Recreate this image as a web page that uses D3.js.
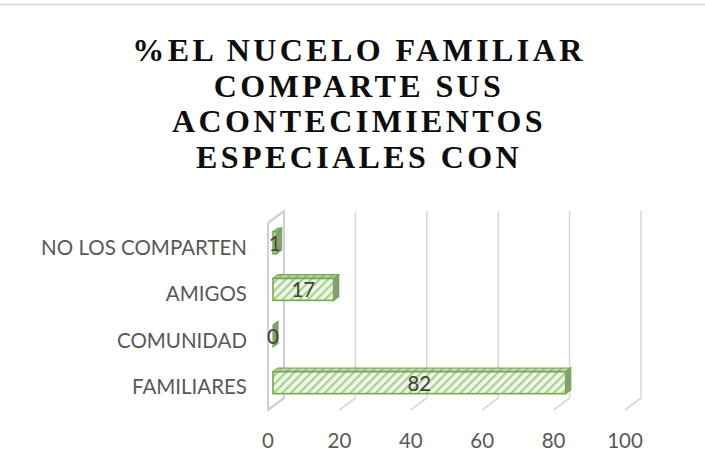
<!DOCTYPE html>
<html>
<head>
<meta charset="utf-8">
<script src="https://cdn.jsdelivr.net/npm/d3@7"></script>
<style>
  body { margin: 0; background: #fff; }
  svg { display: block; }
</style>
</head>
<body>
<svg id="chart"></svg>
<script>
// data
var categories = ["FAMILIARES", "COMUNIDAD", "AMIGOS", "NO LOS COMPARTEN"];
var values = [82, 0, 17, 1];
var xTicks = [0, 20, 40, 60, 80, 100];
var titleLines = ["%EL NUCELO FAMILIAR", "COMPARTE SUS", "ACONTECIMIENTOS", "ESPECIALES CON"];

var W = 705, H = 475;
var depth = { dx: 16, dy: -12 };   // offset front plane -> back wall
var barZ = { front: 5 / 16, back: 10 / 16 }; // where the bar sits in depth
var labelFont = "Lato, 'Open Sans', sans-serif";

var svg = d3.select("#chart")
  .attr("width", W)
  .attr("height", H);

// hatch pattern for the bars
var defs = svg.append("defs");
var pat = defs.append("pattern")
  .attr("id", "hatch")
  .attr("patternUnits", "userSpaceOnUse")
  .attr("width", 6)
  .attr("height", 6)
  .attr("patternTransform", "rotate(45)");
pat.append("rect").attr("width", 6).attr("height", 6).attr("fill", "#eef6e8");
pat.append("rect").attr("width", 2.2).attr("height", 6).attr("fill", "#a9d18e");

// chart frame (top edge visible)
svg.append("line")
  .attr("x1", 0).attr("x2", W)
  .attr("y1", 4.5).attr("y2", 4.5)
  .attr("stroke", "#d9d9d9")
  .attr("stroke-width", 1.5);

// title
var title = svg.append("text")
  .attr("text-anchor", "middle")
  .style("font-family", "'Liberation Serif', 'Times New Roman', serif")
  .style("font-weight", "bold")
  .style("font-size", "32px")
  .style("letter-spacing", "3.4px")
  .attr("fill", "#0d0d0d");
titleLines.forEach((t, i) => {
  title.append("tspan")
    .attr("x", 359)
    .attr("y", 61 + i * 35.6)
    .text(t);
});

// scales (front plane)
var x = d3.scaleLinear()
  .domain([0, 100])
  .range([268, 625]);

var y = d3.scaleBand()
  .domain(categories)
  .range([410, 223])
  .paddingInner(0.53)
  .paddingOuter(0.27);

var floorY = 410, topY = 223;

// gridlines on back wall + floor
var grid = svg.append("g");
xTicks.forEach(t => {
  if (t === 0) return;
  var xf = x(t), xb = x(t) + depth.dx;
  grid.append("path")
    .attr("d", "M" + xb + "," + (topY + depth.dy) + "L" + xb + "," + (floorY + depth.dy) + "L" + xf + "," + floorY)
    .attr("fill", "none")
    .attr("stroke", "#d9d9d9")
    .attr("stroke-width", 1.6);
});

// left side wall
var x0 = x(0);
grid.append("path")
  .attr("d", "M" + x0 + "," + topY +
    "L" + (x0 + depth.dx) + "," + (topY + depth.dy) +
    "L" + (x0 + depth.dx) + "," + (floorY + depth.dy) +
    "L" + x0 + "," + floorY + "Z")
  .attr("fill", "none")
  .attr("stroke", "#d0d0d0")
  .attr("stroke-width", 2.2)
  .attr("stroke-linejoin", "round");

// bars (3D boxes)
var bdx = depth.dx * (barZ.back - barZ.front);
var bdy = depth.dy * (barZ.back - barZ.front);
var fx = depth.dx * barZ.front, fy = depth.dy * barZ.front;
var bh = y.bandwidth();

var bars = svg.selectAll(".bar")
  .data(categories.map((c, i) => ({ label: c, value: values[i] })))
  .enter()
  .append("g")
  .attr("class", "bar")
  .attr("transform", d => "translate(" + fx + "," + (y(d.label) + fy) + ")");

bars.each(function(d) {
  var g = d3.select(this);
  var xa = x(0), xe = x(d.value);
  var topFace = "M" + xa + ",0L" + (xa + bdx) + "," + bdy + "L" + (xe + bdx) + "," + bdy + "L" + xe + ",0Z";
  // top face
  g.append("path")
    .attr("d", topFace)
    .attr("fill", "url(#hatch)")
    .attr("stroke", "#70ad47")
    .attr("stroke-width", 1.2);
  g.append("path")
    .attr("d", topFace)
    .attr("fill", "#7f8f70")
    .attr("opacity", 0.35);
  // front face
  g.append("rect")
    .attr("x", xa)
    .attr("y", 0)
    .attr("width", xe - xa)
    .attr("height", bh)
    .attr("fill", "url(#hatch)")
    .attr("stroke", "#70ad47")
    .attr("stroke-width", 1.6);
  // right face
  g.append("path")
    .attr("d", "M" + xe + ",0L" + (xe + bdx) + "," + bdy + "L" + (xe + bdx) + "," + (bh + bdy) + "L" + xe + "," + bh + "Z")
    .attr("fill", "#8a9a80")
    .attr("stroke", "#70ad47")
    .attr("stroke-width", 1.2);
  // value label
  g.append("text")
    .attr("x", (xa + xe) / 2)
    .attr("y", bh / 2 + 8)
    .attr("text-anchor", "middle")
    .style("font-family", labelFont)
    .style("font-size", "20.5px")
    .attr("fill", "#404040")
    .text(d.value);
});

// category labels
svg.selectAll(".cat")
  .data(categories)
  .enter()
  .append("text")
  .attr("class", "cat")
  .attr("x", 247)
  .attr("y", d => y(d) + bh / 2 + 8)
  .attr("text-anchor", "end")
  .style("font-family", labelFont)
  .style("font-size", "20.5px")
  .attr("fill", "#595959")
  .text(d => d);

// x tick labels
svg.selectAll(".tick-x")
  .data(xTicks)
  .enter()
  .append("text")
  .attr("class", "tick-x")
  .attr("x", d => x(d))
  .attr("y", 448)
  .attr("text-anchor", "middle")
  .style("font-family", labelFont)
  .style("font-size", "20.5px")
  .attr("fill", "#595959")
  .text(d => d);
</script>
</body>
</html>
